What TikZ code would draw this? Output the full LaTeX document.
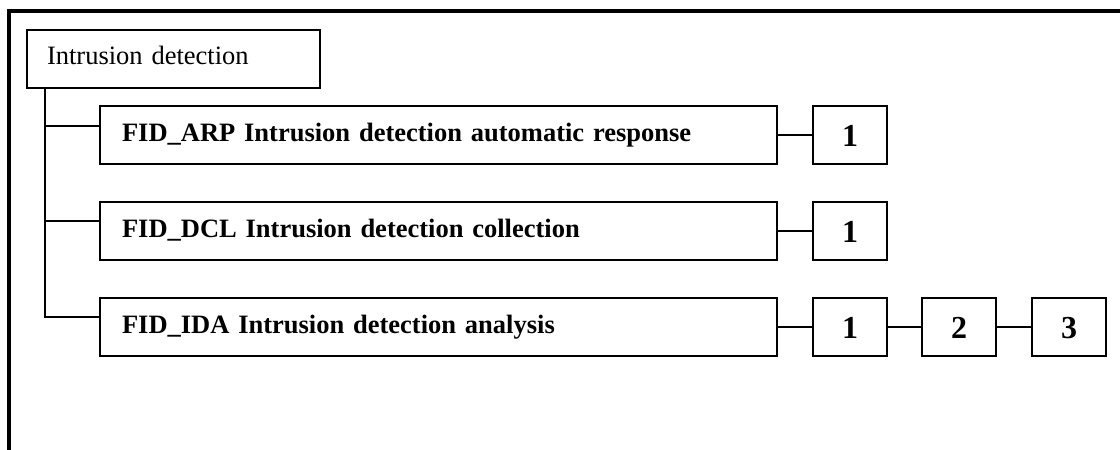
\documentclass[tikz,border=0pt]{standalone}
\usepackage{fontspec}
\setmainfont{Liberation Serif}
\usetikzlibrary{calc}
\begin{document}
\begin{tikzpicture}[x=1pt,y=-1pt,
  frameline/.style={line width=3.2pt, line join=miter},
  link/.style={line width=1.6pt},
  basebox/.style={draw, line width=1.6pt, outer sep=0pt, inner ysep=0pt, anchor=north west, minimum height=58pt},
  titlebox/.style={basebox, inner xsep=20pt, text width=253pt, align=left,
    font=\fontsize{26.5}{30}\selectfont, text height=17.5pt, text depth=7.5pt},
  featbox/.style={basebox, inner xsep=22pt, text width=633pt, align=left,
    font=\fontsize{26.5}{30}\selectfont\bfseries, text height=18pt, text depth=6pt},
  levelbox/.style={draw, line width=1.6pt, outer sep=0pt, inner sep=0pt,
    minimum width=74pt, minimum height=58pt,
    font=\fontsize{32}{36}\selectfont\bfseries, text height=22pt, text depth=0pt}]
\useasboundingbox (0,0) rectangle (1120,450);

% outer frame (top and left edges only)
\draw[frameline] (9,450) -- (9,11) -- (1120,11);

% class and its families
\node[titlebox] (title) at (27,30) {Intrusion detection};
\node[featbox] (arp) at (100,106) {FID\_ARP Intrusion detection automatic response};
\node[featbox] (dcl) at (100,202) {FID\_DCL Intrusion detection collection};
\node[featbox] (ida) at (100,298) {FID\_IDA Intrusion detection analysis};

% components of each family
\node[levelbox] (arp1) at (850,135) {1};
\node[levelbox] (dcl1) at (850,231) {1};
\node[levelbox] (ida1) at (850,327) {1};
\node[levelbox] (ida2) at (959,327) {2};
\node[levelbox] (ida3) at (1069,327) {3};

% tree connectors
\coordinate (trunk) at ($(title.south west)+(18,0)$);
\coordinate (arpin) at ($(arp.north west)+(0,20)$);
\coordinate (dclin) at ($(dcl.north west)+(0,19)$);
\coordinate (idain) at ($(ida.north west)+(0,19)$);
\draw[link] (trunk) |- (idain);
\draw[link] (trunk |- arpin) -- (arpin);
\draw[link] (trunk |- dclin) -- (dclin);

\draw[link] (arp) -- (arp1);
\draw[link] (dcl) -- (dcl1);
\draw[link] (ida) -- (ida1);
\draw[link] (ida1) -- (ida2);
\draw[link] (ida2) -- (ida3);
\end{tikzpicture}
\end{document}
